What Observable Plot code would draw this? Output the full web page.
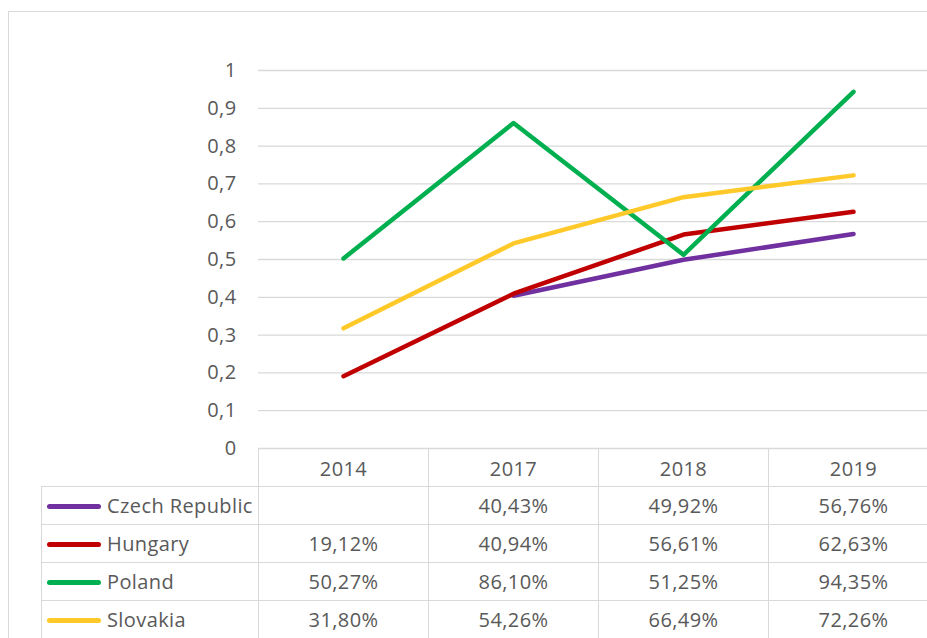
<!DOCTYPE html>
<html><head><meta charset="utf-8">
<script src="https://cdn.jsdelivr.net/npm/d3@7"></script>
<script src="https://cdn.jsdelivr.net/npm/@observablehq/plot@0.6"></script>
<style>
html,body{margin:0;padding:0;background:#fff;overflow:hidden;}
#wrap{position:relative;width:927px;height:638px;overflow:hidden;font-family:"Open Sans",sans-serif;background:#fff;}
#frame{position:absolute;left:8px;top:11px;width:1000px;height:700px;border:1px solid #d9d9d9;box-sizing:border-box;}
#tbl{position:absolute;border-collapse:collapse;table-layout:fixed;color:#595959;font-size:20px;letter-spacing:0.4px;font-family:"Open Sans",sans-serif;}
#tbl td{border:1px solid #d9d9d9;padding:0;text-align:center;white-space:nowrap;overflow:hidden;line-height:1;}
#tbl td.name{text-align:left;padding-left:5px;}
#tbl td.corner{border-top:none;border-left:none;}
.sw{display:inline-block;width:54px;height:5px;border-radius:3px;vertical-align:middle;margin-right:6px;position:relative;top:-1px;}
#chart{position:absolute;left:0;top:0;z-index:2;}
</style></head><body><div id="wrap"><div id="frame"></div></div>
<script>
const years = ["2014", "2017", "2018", "2019"];
const seriesNames = ["Czech Republic", "Hungary", "Poland", "Slovakia"];
const seriesColors = ["#7030a0", "#c00000", "#00b050", "#ffc929"];
const czechRepublic = [null, 0.4043, 0.4992, 0.5676];
const hungary = [0.1912, 0.4094, 0.5661, 0.6263];
const poland = [0.5027, 0.8610, 0.5125, 0.9435];
const slovakia = [0.3180, 0.5426, 0.6649, 0.7226];
const yTicks = [0, 0.1, 0.2, 0.3, 0.4, 0.5, 0.6, 0.7, 0.8, 0.9, 1];

const seriesValues = [czechRepublic, hungary, poland, slovakia];
const rows = [];
seriesNames.forEach((name, i) => {
  years.forEach((yr, j) => {
    rows.push({series: name, year: yr, value: seriesValues[i][j]});
  });
});

const fmtTick = d => String(+d.toFixed(1)).replace(".", ",");
const fmtPct = v => v == null ? "" : (v * 100).toFixed(2).replace(".", ",") + "%";

const chart = Plot.plot({
  width: 940,
  height: 487,
  marginTop: 70,
  marginBottom: 39,
  marginLeft: 258,
  marginRight: 2,
  style: {fontFamily: "'Open Sans', sans-serif", fontSize: "20px", letterSpacing: "0.4px", color: "#595959", background: "transparent", maxWidth: "none", overflow: "visible"},
  x: {type: "point", domain: years, padding: 0.5, label: null},
  y: {domain: [0, 1], label: null},
  color: {domain: seriesNames, range: seriesColors},
  marks: [
    Plot.ruleY(yTicks, {stroke: "#d9d9d9", strokeWidth: 1.3}),
    Plot.axisY({ticks: yTicks, tickSize: 0, tickPadding: 22, tickFormat: fmtTick, label: null}),
    Plot.axisX({tickSize: 0, tickPadding: 13, label: null}),
    Plot.line(rows, {
      x: "year", y: "value", z: "series", stroke: "series",
      strokeWidth: 4.5, strokeLinecap: "round", strokeLinejoin: "round",
      defined: d => d.value != null
    })
  ]
});
chart.id = "chart";
document.getElementById("wrap").appendChild(chart);

// data table below the plot, aligned to the x scale
const xs = chart.scale("x");
const ys = chart.scale("y");
const x0 = xs.apply(years[0]);
const step = xs.apply(years[1]) - x0;
const tableLeft = 41;
const rowH = 38;
const firstW = x0 - step / 2 - tableLeft;

const tbl = document.createElement("table");
tbl.id = "tbl";
tbl.style.left = tableLeft + "px";
tbl.style.top = ys.apply(0) + "px";
tbl.style.width = (firstW + step * years.length) + "px";
const cg = document.createElement("colgroup");
[firstW, ...years.map(() => step)].forEach(w => {
  const c = document.createElement("col");
  c.style.width = w + "px";
  cg.appendChild(c);
});
tbl.appendChild(cg);
const head = document.createElement("tr");
head.style.height = rowH + "px";
const corner = document.createElement("td");
corner.className = "corner";
head.appendChild(corner);
years.forEach(() => head.appendChild(document.createElement("td")));
tbl.appendChild(head);
seriesNames.forEach((name, i) => {
  const tr = document.createElement("tr");
  tr.style.height = rowH + "px";
  const td = document.createElement("td");
  td.className = "name";
  const sw = document.createElement("span");
  sw.className = "sw";
  sw.style.background = seriesColors[i];
  td.appendChild(sw);
  td.appendChild(document.createTextNode(name));
  tr.appendChild(td);
  seriesValues[i].forEach(v => {
    const c = document.createElement("td");
    c.textContent = fmtPct(v);
    tr.appendChild(c);
  });
  tbl.appendChild(tr);
});
document.getElementById("wrap").appendChild(tbl);
</script>
</body></html>
